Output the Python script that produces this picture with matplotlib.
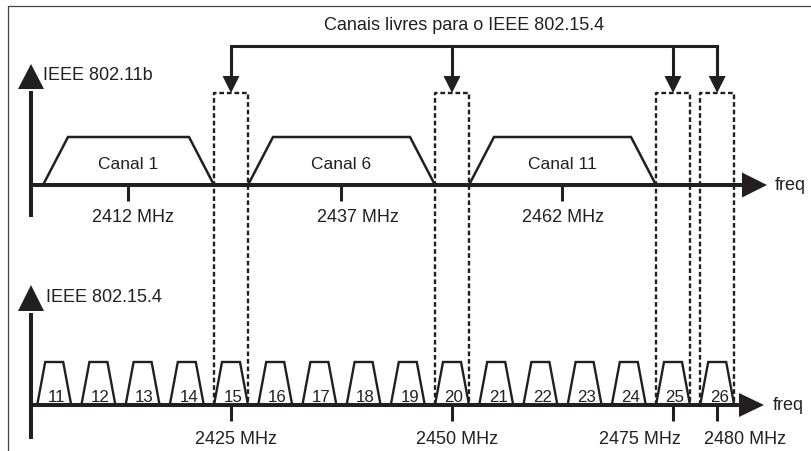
import numpy as np
import matplotlib
matplotlib.use('Agg')
import matplotlib.pyplot as plt

plt.rcParams['font.family'] = ['Liberation Sans', 'DejaVu Sans']

# dados do diagrama
titulo = 'Canais livres para o IEEE 802.15.4'
wifi_nome = 'IEEE 802.11b'
zb_nome = 'IEEE 802.15.4'
wifi_canais = ['Canal 1', 'Canal 6', 'Canal 11']
wifi_freq = [2412, 2437, 2462]
zb_canais = [11, 12, 13, 14, 15, 16, 17, 18, 19, 20, 21, 22, 23, 24, 25, 26]
zb_freq = [2405, 2410, 2415, 2420, 2425, 2430, 2435, 2440, 2445, 2450,
           2455, 2460, 2465, 2470, 2475, 2480]
livres = [15, 20, 25, 26]
livres_freq = [2425, 2450, 2475, 2480]

COR = '#231f20'
PPM = 8.84                 # pixels por MHz
F0 = 2425 - 231 / PPM      # frequencia no pixel 0

def fx(p):
    '''converte pixel horizontal em MHz'''
    return F0 + p / PPM

fig = plt.figure(figsize=(8.12, 4.52), dpi=100)
ax = fig.add_axes([0, 0, 1, 1])
ax.set_xlim(fx(0), fx(812))
ax.set_ylim(452, 0)
ax.axis('off')

# moldura (so topo e esquerda)
ax.plot([fx(8), fx(8), fx(812)], [452, 7, 7], color='#444444', lw=0.9)

def seta_h(y, x0, xb, xt, h):
    ax.plot([fx(x0), fx(xb + 2)], [y, y], color=COR, lw=2.9, solid_capstyle='butt')
    ax.fill([fx(xb), fx(xt), fx(xb)], [y - h, y, y + h], color=COR, lw=0)

def seta_v(x, y0, yb, yt, h, lw=2.9):
    ax.plot([fx(x), fx(x)], [y0, yb + 2], color=COR, lw=lw, solid_capstyle='butt')
    ax.fill([fx(x - h), fx(x), fx(x + h)], [yb, yt, yb], color=COR, lw=0)

# eixos
seta_v(31, 218, 90, 65, 13)
seta_h(186, 31, 742, 767, 12.5)
seta_v(31, 440, 312, 286, 13)
seta_h(406, 31, 739, 764, 12)

ax.text(fx(43), 80, wifi_nome, fontsize=13, color=COR, va='baseline')
ax.text(fx(46), 302, zb_nome, fontsize=13, color=COR, va='baseline')
ax.text(fx(775), 190, 'freq', fontsize=13, color=COR, va='baseline')
ax.text(fx(773), 410, 'freq', fontsize=13, color=COR, va='baseline')

# canais 802.15.4
hb = 17 / PPM   # meia base
ht = 9 / PPM    # meio topo
for c, f in zip(zb_canais, zb_freq):
    ax.plot([f - hb, f - ht, f + ht, f + hb], [406, 363, 363, 406],
            color=COR, lw=1.7, solid_joinstyle='miter')
    ax.text(f + 2 / PPM, 402, str(c), fontsize=12.2, color=COR,
            ha='center', va='baseline')

# canais 802.11b ocupam o espaco entre os canais livres
esq = [fx(43)] + [f + hb for f in livres_freq[:2]]
dir_ = [f - hb for f in livres_freq[:3]]
ins = 25 / PPM
wifi_dx = [5, 16, 1]
for nome, fr, l, r, dx in zip(wifi_canais, wifi_freq, esq, dir_, wifi_dx):
    ax.plot([l, l + ins, r - ins, r], [186, 138, 138, 186],
            color=COR, lw=1.8, solid_joinstyle='miter')
    m = (l + r) / 2
    ax.text(m, 169, nome, fontsize=12.5, color=COR, ha='center', va='baseline')
    ax.plot([m, m], [186, 202], color=COR, lw=2.2, solid_capstyle='butt')
    ax.text(m + dx / PPM, 222, f'{fr} MHz', fontsize=13, color=COR,
            ha='center', va='baseline')

# marcas das frequencias livres
zb_dx = [5, 5, -33, 28]
for f, dx in zip(livres_freq, zb_dx):
    ax.plot([f, f], [406, 422], color=COR, lw=2.2, solid_capstyle='butt')
    ax.text(f + dx / PPM, 444, f'{f} MHz', fontsize=13, color=COR,
            ha='center', va='baseline')

# caixas tracejadas
for f in livres_freq:
    ax.plot([f - hb, f - hb, f + hb, f + hb], [406, 94, 94, 406], color=COR,
            lw=1.7, linestyle=(0, (2.0, 1.2)))

# setas de indicacao
ax.plot([livres_freq[0], livres_freq[0], livres_freq[-1], livres_freq[-1]],
        [79, 47, 47, 79], color=COR, lw=2.2, solid_joinstyle='miter')
for f in livres_freq:
    ax.plot([f, f], [47, 79], color=COR, lw=2.2, solid_capstyle='butt')
    ax.fill([f - 8.5 / PPM, f, f + 8.5 / PPM], [77, 94, 77], color=COR, lw=0)
ax.text(fx(464), 30, titulo, fontsize=13, color=COR, ha='center', va='baseline')

fig.savefig('out.png', dpi=100)
